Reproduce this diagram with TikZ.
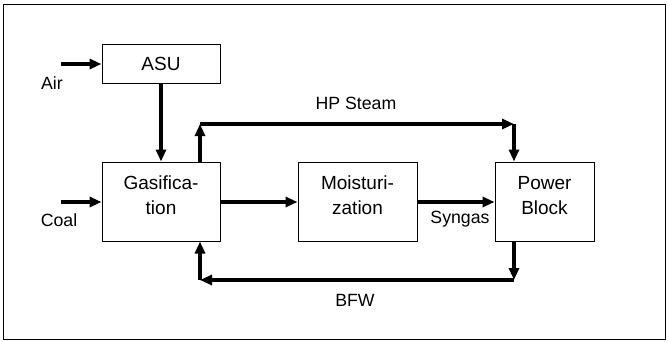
\documentclass[tikz,border=0pt]{standalone}
\usepackage{fontspec}
\setmainfont{Liberation Sans}
\usetikzlibrary{arrows.meta}

\begin{document}
\begin{tikzpicture}[x=1pt, y=-1pt,
    block/.style={draw, line width=1pt, minimum width=118pt, minimum height=79pt, inner sep=0pt},
    flow/.style={line width=4pt, -{Triangle[length=12pt, width=10pt]}},
    lbl/.style={font=\fontsize{17.7}{25}\selectfont, align=center, inner sep=0pt},
    blbl/.style={lbl, font=\fontsize{19}{25}\selectfont}]
\useasboundingbox (0,0) rectangle (668,341);
% Frame
\draw[line width=1pt] (3,4) rectangle (665,339);
% Units
\node[block, minimum height=39pt] (asu) at (161,63.5) {};
\node[blbl] at (asu) {ASU};
\node[block] (gas) at (161,201.5) {};
\node[blbl] at (161,195.5) {Gasifica-\\tion};
\node[block, minimum width=119pt] (moist) at (357.5,201.5) {};
\node[blbl] at (357.5,195.5) {Moisturi-\\zation};
\node[block, minimum width=99pt] (pb) at (544.5,201.5) {};
\node[blbl] at (544.5,195.5) {Power\\Block};
% Labels
\node[lbl] (air) at (52,83) {Air};
\node[lbl] (coal) at (59,220) {Coal};
\node[lbl] (steam) at (356,103) {HP Steam};
\node[lbl] (syn) at (460,219) {Syngas};
\node[lbl] (bfw) at (355,300) {BFW};
% Corners
\coordinate (airin) at (61,64);
\coordinate (coalin) at (61,202);
\coordinate (s1) at (200,124);
\coordinate (s2) at (514,124);
\coordinate (b1) at (514,280);
\coordinate (b2) at (200,280);
% Streams
\draw[flow] (airin) -- (airin -| asu.west);
\draw[flow] (coalin) -- (coalin -| gas.west);
\draw[flow] (asu.south) -- (gas.north);
\draw[flow] (s1 |- gas.north) -- (s1);
\draw[flow] (s1) -- (s2);
\draw[flow] (s2) -- (s2 |- pb.north);
\draw[flow] (gas.east |- coalin) -- (moist.west |- coalin);
\draw[flow] (moist.east |- coalin) -- (pb.west |- coalin);
\draw[flow] (b1 |- pb.south) -- (b1);
\draw[flow] (b1) -- (b2);
\draw[flow] (b2) -- (b2 |- gas.south);
\end{tikzpicture}
\end{document}
